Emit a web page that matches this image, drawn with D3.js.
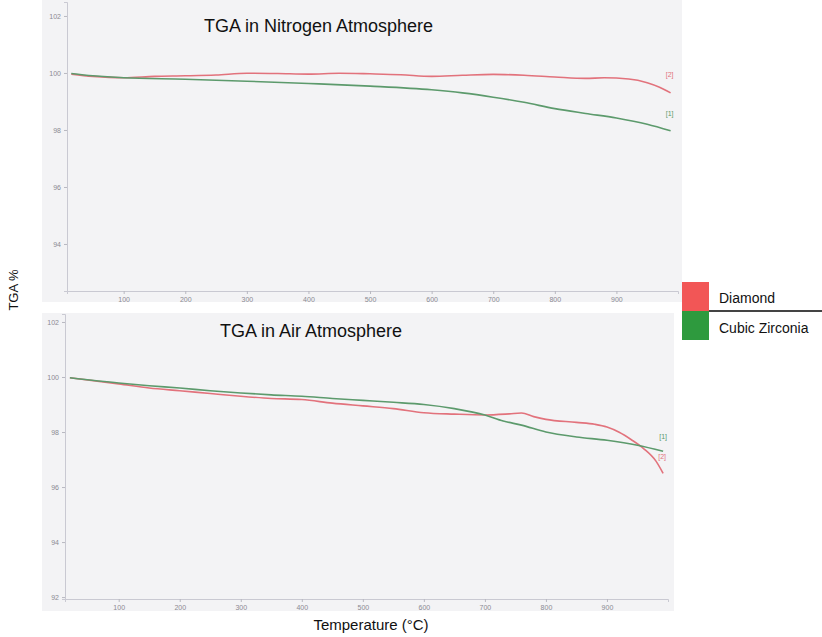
<!DOCTYPE html>
<html>
<head>
<meta charset="utf-8">
<script src="https://cdn.jsdelivr.net/npm/d3@7"></script>
<style>
  body { margin: 0; background: #fff; }
  svg { display: block; font-family: Arial, "Liberation Sans", sans-serif; }
</style>
</head>
<body>
<div id="chart"></div>
<script>
// TGA curves, values

// nitrogen atmosphere
var tempN = [15, 50, 100, 150, 200, 250, 300, 350, 400, 450, 500, 550, 600, 650, 700, 750, 800, 850, 880, 920, 950, 970, 988];
var diamondN = [99.96, 99.88, 99.83, 99.88, 99.9, 99.93, 99.99, 99.98, 99.96, 99.99, 99.97, 99.94, 99.88, 99.92, 99.95, 99.92, 99.86, 99.81, 99.83, 99.79, 99.66, 99.5, 99.3];
var tempN2 = [15, 50, 100, 200, 300, 400, 500, 600, 650, 700, 750, 800, 850, 900, 950, 988];
var zirconiaN = [99.98, 99.9, 99.83, 99.78, 99.71, 99.63, 99.54, 99.41, 99.3, 99.15, 98.97, 98.75, 98.58, 98.42, 98.2, 97.97];

// air atmosphere
var tempAir = [20, 100, 150, 200, 250, 300, 350, 400, 450, 500, 550, 600, 650, 700, 740, 760, 780, 800, 850, 880, 900, 920, 940, 960, 980, 992];
var diamondAir = [99.97, 99.75, 99.6, 99.5, 99.4, 99.3, 99.22, 99.18, 99.05, 98.95, 98.85, 98.7, 98.65, 98.62, 98.66, 98.69, 98.56, 98.46, 98.35, 98.28, 98.18, 97.99, 97.72, 97.4, 96.95, 96.5];
var tempAir2 = [20, 100, 150, 200, 250, 300, 350, 400, 450, 500, 550, 600, 650, 700, 730, 760, 800, 850, 900, 950, 992];
var zirconiaAir = [99.97, 99.78, 99.68, 99.6, 99.5, 99.42, 99.35, 99.3, 99.22, 99.15, 99.08, 99.0, 98.85, 98.62, 98.4, 98.25, 98.0, 97.82, 97.7, 97.52, 97.3];

var xTicks = [100, 200, 300, 400, 500, 600, 700, 800, 900];
var yTicksN = [94, 96, 98, 100, 102];
var yTicksAir = [92, 94, 96, 98, 100, 102];

var legendNames = ["Diamond", "Cubic Zirconia"];
var legendColors = ["#f25656", "#2e9a3e"];
var redLine = "#e2727c", greenLine = "#5c9a6c";

var width = 822, height = 637;

var svg = d3.select("#chart")
  .append("svg")
    .attr("width", width)
    .attr("height", height);

function pairs(xs, ys) {
  return xs.map(function(t, i) { return [t, ys[i]]; });
}

function panel(opts) {
  var g = svg.append("g");

  g.append("rect")
    .attr("x", opts.box[0]).attr("y", opts.box[1])
    .attr("width", opts.box[2]).attr("height", opts.box[3])
    .attr("fill", "#f3f3f5");

  var x = d3.scaleLinear().domain(opts.xDomain).range(opts.xRange);
  var y = d3.scaleLinear().domain(opts.yDomain).range(opts.yRange);

  // axes
  var xAxis = g.append("g")
    .attr("transform", "translate(0," + opts.yRange[0] + ")")
    .call(d3.axisBottom(x).tickValues(xTicks).tickSize(3).tickPadding(3));
  var yAxis = g.append("g")
    .attr("transform", "translate(" + opts.xRange[0] + ",0)")
    .call(d3.axisLeft(y).tickValues(opts.yTicks).tickSize(3).tickPadding(3));

  [xAxis, yAxis].forEach(function(a) {
    a.select(".domain").attr("stroke", "#c9c9d2");
    a.selectAll(".tick line").attr("stroke", "#b8b8c0");
    a.selectAll(".tick text").attr("fill", "#8a8a92").style("font-size", "7px");
  });

  var line = d3.line()
    .x(function(d) { return x(d[0]); })
    .y(function(d) { return y(d[1]); })
    .curve(d3.curveMonotoneX);

  opts.series.forEach(function(s) {
    g.append("path")
      .datum(s.data)
      .attr("fill", "none")
      .attr("stroke", s.color)
      .attr("stroke-width", 1.6)
      .attr("d", line);

    var last = s.data[s.data.length - 1];
    g.append("text")
      .attr("x", x(last[0]) + s.lab[0])
      .attr("y", y(last[1]) + s.lab[1])
      .attr("text-anchor", "middle")
      .attr("fill", s.color)
      .style("font-size", "7px")
      .text(s.name);
  });

  g.append("text")
    .attr("x", opts.title[0])
    .attr("y", opts.title[1])
    .attr("fill", "#111")
    .style("font-size", "18px")
    .text(opts.title[2]);
}

panel({
  box: [42, 0, 640, 302],
  xDomain: [8, 1000], xRange: [67, 678],
  yDomain: [92.35, 102.49], yRange: [291, 2],
  yTicks: yTicksN,
  title: [204, 32, "TGA in Nitrogen Atmosphere"],
  series: [
    { data: pairs(tempN, diamondN), color: redLine, name: "[2]", lab: [-1, -16] },
    { data: pairs(tempN2, zirconiaN), color: greenLine, name: "[1]", lab: [-1, -15] }
  ]
});

panel({
  box: [42, 313, 632, 298],
  xDomain: [12, 1000], xRange: [65, 668],
  yDomain: [91.93, 102.29], yRange: [599, 314],
  yTicks: yTicksAir,
  title: [220, 337, "TGA in Air Atmosphere"],
  series: [
    { data: pairs(tempAir, diamondAir), color: redLine, name: "[2]", lab: [-1, -14] },
    { data: pairs(tempAir2, zirconiaAir), color: greenLine, name: "[1]", lab: [0, -12] }
  ]
});

// axis titles
svg.append("text")
  .attr("transform", "translate(18,290)rotate(-90)")
  .attr("text-anchor", "middle")
  .attr("fill", "#111")
  .style("font-size", "13px")
  .text("TGA %");

svg.append("text")
  .attr("x", 371)
  .attr("y", 630)
  .attr("text-anchor", "middle")
  .attr("fill", "#111")
  .style("font-size", "15px")
  .text("Temperature (°C)");

// legend
var legend = svg.append("g");
legend.selectAll("rect")
  .data(legendNames)
  .enter()
  .append("rect")
    .attr("x", 682)
    .attr("y", function(d, i) { return 282 + i * 29; })
    .attr("width", 27)
    .attr("height", 29)
    .attr("fill", function(d, i) { return legendColors[i]; });

legend.selectAll("text")
  .data(legendNames)
  .enter()
  .append("text")
    .attr("x", 719)
    .attr("y", function(d, i) { return 303 + i * 30; })
    .attr("fill", "#111")
    .style("font-size", "14px")
    .text(function(d) { return d; });

legend.append("line")
  .attr("x1", 709).attr("x2", 822)
  .attr("y1", 311).attr("y2", 311)
  .attr("stroke", "#444")
  .attr("stroke-width", 2);
</script>
</body>
</html>
